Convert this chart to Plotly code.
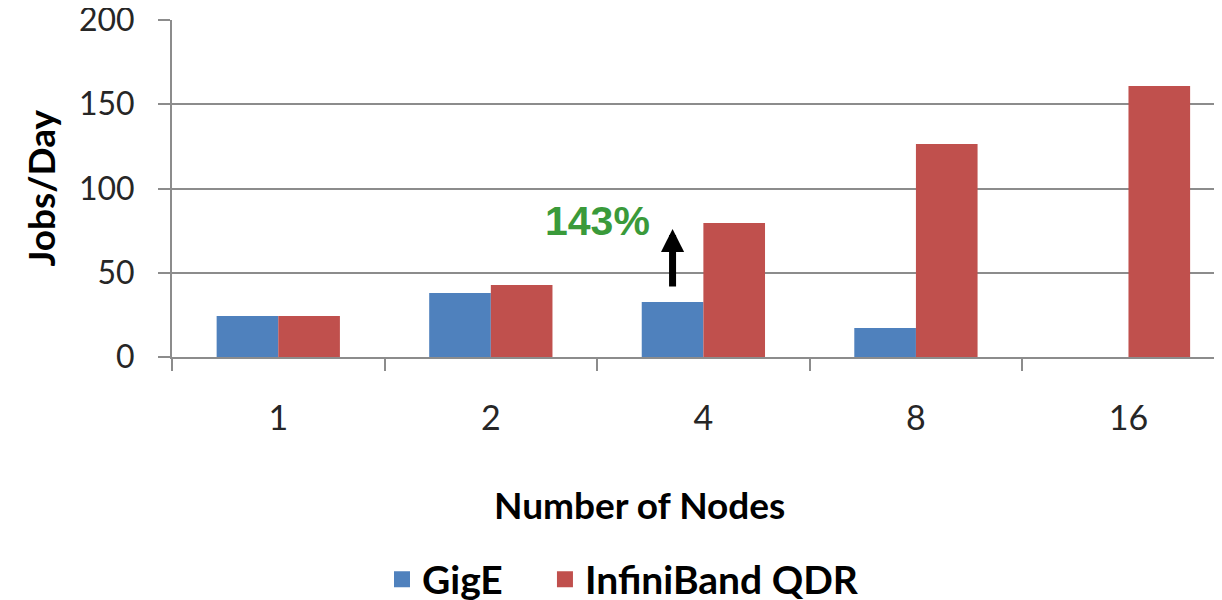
import plotly.graph_objects as go

nodes = ["1", "2", "4", "8", "16"]
gige = [24.3, 38.0, 32.7, 17.2, None]
infiniband = [24.3, 42.7, 79.5, 126.4, 160.8]

BLUE = "#4F81BD"
RED = "#C0504D"
GRID = "#8C8C8C"
FONT = "Lato"

fig = go.Figure()
fig.add_trace(
    go.Bar(
        x=nodes,
        y=gige,
        name="GigE",
        marker=dict(color=BLUE, line=dict(width=0)),
        showlegend=False,
    )
)
fig.add_trace(
    go.Bar(
        x=nodes,
        y=infiniband,
        name="InfiniBand QDR",
        marker=dict(color=RED, line=dict(width=0)),
        showlegend=False,
    )
)

# legend entries with bigger squares than the bar legend icons,
# one legend each so the spacing between them can be set
for name, color, leg in [("GigE", BLUE, "legend"), ("InfiniBand QDR", RED, "legend2")]:
    fig.add_trace(
        go.Scatter(
            x=[None],
            y=[None],
            mode="markers",
            name=name,
            legend=leg,
            marker=dict(symbol="square", size=22, color=color),
        )
    )

# arrow over the GigE bar at 4 nodes
fig.add_annotation(
    x=1.855, y=76, ax=1.855, ay=41,
    xref="x", yref="y", axref="x", ayref="y",
    text="", showarrow=True,
    arrowhead=2, arrowsize=0.66, arrowwidth=7, arrowcolor="black",
)
fig.add_annotation(
    x=1.5, y=80.7, xref="x", yref="y",
    text="<b>143%</b>", showarrow=False,
    font=dict(family="Liberation Sans", size=41, color="#3A9A3A"),
)

# axis titles
fig.add_annotation(
    x=0.445, y=-0.439, xref="paper", yref="paper",
    xanchor="center", yanchor="middle",
    text="<b>Number of Nodes</b>", showarrow=False,
    font=dict(family=FONT, size=37, color="black"),
)
fig.add_annotation(
    x=-0.1257, y=0.5, xref="paper", yref="paper",
    xanchor="center", yanchor="middle",
    text="<b>Jobs/Day</b>", showarrow=False, textangle=-90,
    font=dict(family=FONT, size=37, color="black"),
)

legend_style = dict(
    orientation="h",
    xanchor="left",
    y=-0.66, yanchor="middle",
    font=dict(family=FONT, size=39, color="black", weight="bold"),
    itemwidth=30,
)

# the page body has an 8px margin, so the figure is shifted by 8px
fig.update_layout(
    width=1214,
    height=592,
    margin=dict(l=164, r=0, t=12, b=243, autoexpand=False),
    barmode="group",
    bargap=0.42,
    bargroupgap=0,
    plot_bgcolor="white",
    paper_bgcolor="white",
    font=dict(family=FONT, size=32, color="#262626"),
    showlegend=True,
    legend=dict(x=0.2, **legend_style),
    legend2=dict(x=0.3552, **legend_style),
    xaxis=dict(
        range=[-0.5, 4.44],
        showline=True, linecolor=GRID, linewidth=2,
        ticks="outside", tickson="boundaries", ticklen=12, tickcolor=GRID, tickwidth=2,
        ticklabelstandoff=30,
        tickfont=dict(size=34),
        ticklabeloverflow="allow",
        showgrid=False,
        automargin=False,
    ),
    yaxis=dict(
        range=[0, 200],
        tickvals=[0, 50, 100, 150, 200],
        showline=True, linecolor=GRID, linewidth=2,
        ticks="outside", ticklen=12, tickcolor=GRID, tickwidth=2,
        ticklabelstandoff=17,
        ticklabeloverflow="allow",
        showgrid=True, gridcolor=GRID, gridwidth=2,
        zeroline=False,
        automargin=False,
    ),
)

fig.write_html("out.html")
